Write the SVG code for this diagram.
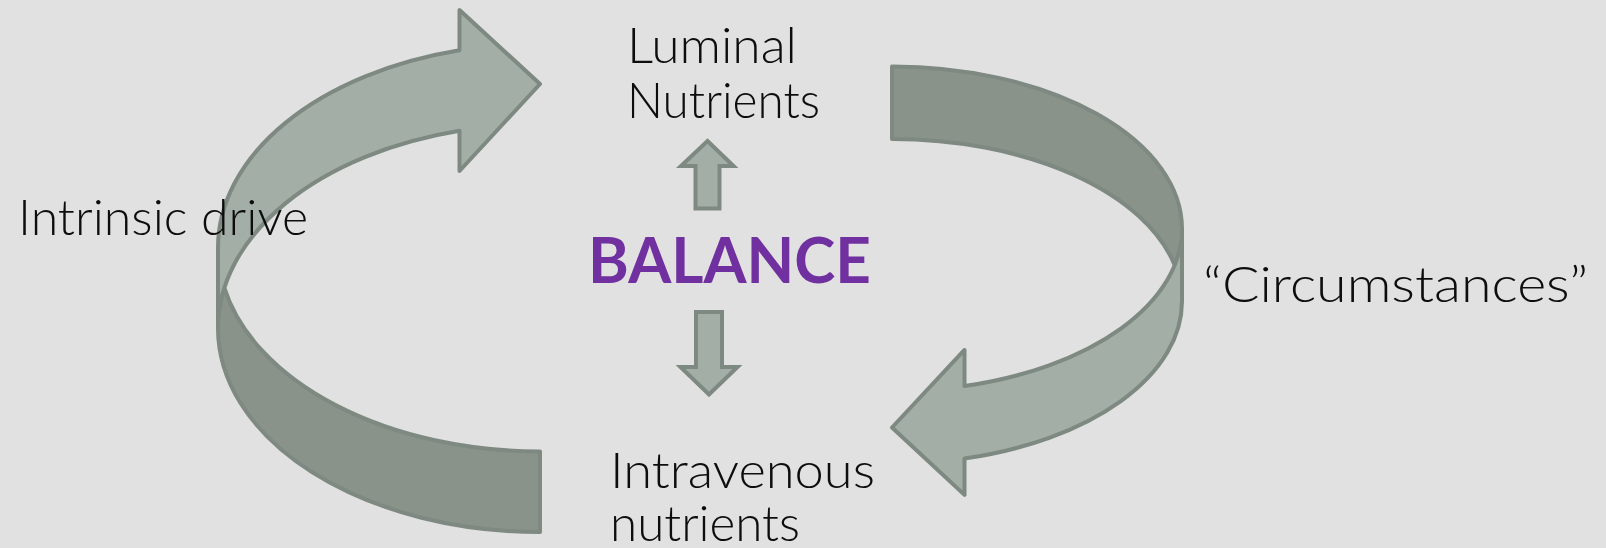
<svg xmlns="http://www.w3.org/2000/svg" width="1606" height="548" viewBox="0 0 1606 548">
<style>
.light{fill:#a3aea6;stroke:none}
.dark{fill:#89938a;stroke:none}
.edge{fill:none;stroke:#7e8981;stroke-width:4;stroke-linejoin:round}
.small{fill:#a3aea6;stroke:#7e8981;stroke-width:4;stroke-linejoin:miter}
.lbl{font-family:Lato,"Open Sans","DejaVu Sans",sans-serif;font-size:50px;font-weight:300;fill:#0d0d0d}
.bal{font-family:Lato,"Open Sans","DejaVu Sans",sans-serif;font-size:64px;font-weight:bold;fill:#7030a0}
</style>
<rect width="1606" height="548" fill="#e1e1e1"/>
<g id="connectors">
<g id="arrow-left">
<path class="light" d="M218 328.15 A322 203.85 0 0 1 459.5 130.8 L459.5 171 L540 84 L459.5 10 L459.5 50.3 A322 203.85 0 0 0 218 247.65 Z"/>
<path class="dark" d="M540 451.5 A322 203.85 0 0 1 224.34 287.9 A322 203.85 0 0 0 540 532 Z"/>
<path class="edge" d="M218 328.15 A322 203.85 0 0 1 459.5 130.8 L459.5 171 L540 84 L459.5 10 L459.5 50.3 A322 203.85 0 0 0 218 247.65 L218 328.15 A322 203.85 0 0 0 540 532 L540 451.5 A322 203.85 0 0 1 224.34 287.9"/>
</g>
<g id="arrow-right">
<path class="light" d="M1182 228.9 A290 162.4 0 0 1 964.5 386.1 L964.5 349.9 L892 427.5 L964.5 494.9 L964.5 458.6 A290 162.4 0 0 0 1182 301.4 Z"/>
<path class="dark" d="M892 139 A290 162.4 0 0 1 1174.7 265.15 A290 162.4 0 0 0 892 66.5 Z"/>
<path class="edge" d="M1182 228.9 A290 162.4 0 0 1 964.5 386.1 L964.5 349.9 L892 427.5 L964.5 494.9 L964.5 458.6 A290 162.4 0 0 0 1182 301.4 L1182 228.9 A290 162.4 0 0 0 892 66.5 L892 139 A290 162.4 0 0 1 1174.7 265.15"/>
</g>
<g id="arrow-up">
<path class="small" d="M707.5 141 L733.5 166 L719.5 166 L719.5 208.5 L695.5 208.5 L695.5 166 L681 166 Z"/>
</g>
<g id="arrow-down">
<path class="small" d="M696 312 L722 312 L722 367 L737.5 367 L709 394.5 L680.5 367 L696 367 Z"/>
</g>
</g>
<g id="node-luminal">
<text class="lbl" x="627" y="63" textLength="170" lengthAdjust="spacingAndGlyphs">Luminal</text>
<text class="lbl" x="627" y="118" textLength="193" lengthAdjust="spacingAndGlyphs">Nutrients</text>
</g>
<g id="node-balance">
<text class="bal" x="588" y="282.5" textLength="283" lengthAdjust="spacingAndGlyphs">BALANCE</text>
</g>
<g id="node-intravenous">
<text class="lbl" x="610" y="488" textLength="265" lengthAdjust="spacingAndGlyphs">Intravenous</text>
<text class="lbl" x="610" y="541" textLength="190" lengthAdjust="spacingAndGlyphs">nutrients</text>
</g>
<g id="node-intrinsic">
<text class="lbl" x="18" y="235" textLength="290" lengthAdjust="spacingAndGlyphs">Intrinsic drive</text>
</g>
<g id="node-circumstances">
<text class="lbl" x="1203" y="301.5" textLength="385" lengthAdjust="spacingAndGlyphs">“Circumstances”</text>
</g>
</svg>
